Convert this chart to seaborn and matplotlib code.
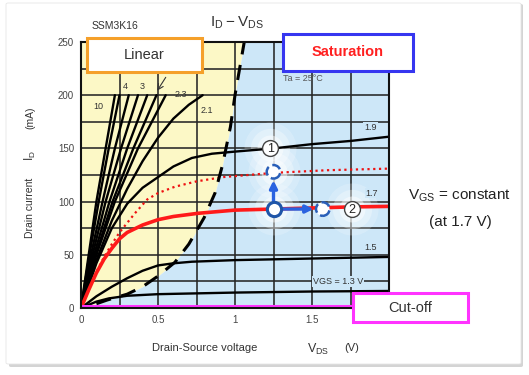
import numpy as np
import pandas as pd
import matplotlib
matplotlib.use("Agg")
import matplotlib.pyplot as plt
import seaborn as sns
from matplotlib.patches import Rectangle, FancyBboxPatch

# ==========================
# DATA
# ==========================
# steep curves ending at 200 mA (Vgs = 10 ... 2.3)
steep_names = ["10", "6", "4", "3.5", "3", "2.5", "2.3"]
steep_i = [0, 50, 100, 150, 200]
steep_v = [
    [0, 0.05, 0.10, 0.16, 0.22],
    [0, 0.055, 0.115, 0.18, 0.25],
    [0, 0.065, 0.14, 0.22, 0.31],
    [0, 0.075, 0.16, 0.26, 0.37],
    [0, 0.085, 0.185, 0.30, 0.43],
    [0, 0.095, 0.205, 0.34, 0.49],
    [0, 0.10, 0.22, 0.37, 0.55],
]

vgs21_v = [0, 0.1, 0.2, 0.3, 0.4, 0.5, 0.6, 0.7, 0.79]
vgs21_i = [0, 45, 82, 112, 138, 160, 178, 191, 200]

vgs19_v = [0, 0.1, 0.2, 0.3, 0.4, 0.5, 0.6, 0.72, 0.85, 1.0, 1.25, 1.5, 1.75, 2.0]
vgs19_i = [0, 42, 75, 98, 113, 123, 133, 141, 145, 147, 150, 154, 157, 161]

vgs15_v = [0, 0.1, 0.2, 0.3, 0.4, 0.5, 0.6, 0.72, 1.0, 1.5, 2.0]
vgs15_i = [0, 11, 20, 28, 35, 40, 42, 43.5, 45, 46.5, 48]

vgs13_v = [0, 0.1, 0.18, 0.3, 0.5, 1.0, 1.5, 2.0]
vgs13_i = [0, 6, 9, 11.5, 13, 14.5, 15.5, 16]

vgs17_v = [0, 0.05, 0.1, 0.15, 0.2, 0.25, 0.3, 0.4, 0.5, 0.6, 0.76, 1.0, 1.25, 1.5, 1.75, 2.0]
vgs17_i = [0, 17, 33, 46, 56, 65, 71, 78, 83, 86, 89, 92, 93, 94, 95, 95.5]

dotted_v = [0, 0.05, 0.1, 0.15, 0.2, 0.25, 0.3, 0.35, 0.43, 0.5, 0.61, 0.75, 0.92, 1.25, 1.6, 2.0]
dotted_i = [0, 17, 34, 48, 60, 71, 80, 89, 102, 108, 114, 119, 123, 127, 129.5, 131]

# linear / saturation boundary (dashed)
bound_v = [0, 0.1, 0.17, 0.3, 0.4, 0.5, 0.61, 0.7, 0.8, 0.87, 0.92, 0.97, 1.0, 1.03, 1.06]
bound_i = [0, 4, 7.5, 13, 20, 30, 43, 60, 85, 108, 135, 170, 200, 225, 250]

cutoff_v = [0, 1.78]
cutoff_i = [1.5, 1.5]

# operating points
op_v = [1.25]
op_i = [93]
moved_v = [1.25, 1.57]
moved_i = [128, 93]
mark_labels = ["1", "2"]
mark_v = [1.23, 1.76]
mark_i = [150, 93]

x_ticks = [0, 0.5, 1, 1.5]
y_ticks = [0, 50, 100, 150, 200, 250]

# ==========================
# FIGURE
# ==========================
sns.set_style("white")
plt.rcParams['font.family'] = ['Liberation Sans', 'DejaVu Sans']
plt.rcParams['mathtext.fontset'] = 'custom'
plt.rcParams['mathtext.rm'] = 'Liberation Sans'

W, H = 529, 375
fig = plt.figure(figsize=(W / 100, H / 100), dpi=100)
fig.patch.set_facecolor("white")


def fx(x):
    return x / W


def fy(y):
    return 1 - y / H


# card with shadow
fig.add_artist(FancyBboxPatch((fx(9), fy(367)), fx(514), 363 / H,
                              boxstyle="round,pad=0,rounding_size=0.004",
                              transform=fig.transFigure, fc="#d4d4d4", ec="none", zorder=-2))
fig.add_artist(FancyBboxPatch((fx(6), fy(364)), fx(515), 361 / H,
                              boxstyle="round,pad=0,rounding_size=0.004",
                              transform=fig.transFigure, fc="white", ec="#e6e6e6", lw=0.6, zorder=-1))

ax = fig.add_axes([fx(81), fy(308), 308 / W, 266 / H])
ax.set_zorder(1)
ax.set_xlim(0, 2)
ax.set_ylim(0, 250)

# background regions
ax.fill_betweenx(bound_i, 0, bound_v, color="#fcf8c6", lw=0, zorder=0.2)
ax.fill_betweenx(bound_i, bound_v, 2, color="#cde7f8", lw=0, zorder=0.2)

# grid
ax.set_xticks(x_ticks)
ax.set_yticks(y_ticks)
ax.set_xticks(np.arange(0, 2.01, 0.25), minor=True)
ax.set_yticks(np.arange(0, 251, 25), minor=True)
ax.set_axisbelow(True)
ax.grid(which="both", color="#262626", lw=1.15)
ax.tick_params(which="major", axis="both", length=3, width=0.8, color="#444",
               labelsize=7, labelcolor="#444", pad=2, direction="out")
ax.tick_params(which="minor", length=0)
ax.set_xticklabels(["0", "0.5", "1", "1.5"])
for s in ax.spines.values():
    s.set_color("#111")
    s.set_linewidth(1.5)

# glow behind annotations
glow_v = [1.23, 1.25, 1.76, 1.25]
glow_i = [150, 128, 93, 93]
for sz, a in [(1400, 0.2), (800, 0.3), (350, 0.45)]:
    ax.scatter(glow_v, glow_i, s=sz, color="white", alpha=a, lw=0, zorder=1)

# curves
rows = []
for name, vs in zip(steep_names, steep_v):
    for v, i in zip(vs, steep_i):
        rows.append({"vgs": name, "V": v, "I": i})
for name, vs, is_ in [("2.1", vgs21_v, vgs21_i), ("1.9", vgs19_v, vgs19_i),
                      ("1.5", vgs15_v, vgs15_i), ("1.3", vgs13_v, vgs13_i)]:
    for v, i in zip(vs, is_):
        rows.append({"vgs": name, "V": v, "I": i})
black = pd.DataFrame(rows)
sns.lineplot(data=black, x="V", y="I", units="vgs", estimator=None, sort=False,
             color="black", lw=1.7, ax=ax, zorder=2)

sns.lineplot(x=dotted_v, y=dotted_i, sort=False, color="#ee1111", lw=1.6,
             linestyle=(0, (1, 1.6)), ax=ax, zorder=2)
sns.lineplot(x=vgs17_v, y=vgs17_i, sort=False, color="#ff1a1a", lw=2.6, ax=ax, zorder=2.2)
sns.lineplot(x=bound_v[1:], y=bound_i[1:], sort=False, color="black", lw=2.2,
             linestyle=(0, (5, 3.5)), ax=ax, zorder=2.3)
sns.lineplot(x=cutoff_v, y=cutoff_i, sort=False, color="#ff33ff", lw=2.2, ax=ax, zorder=2.4)
ax.set_xlabel("")
ax.set_ylabel("")

# arrows and points
akw = dict(arrowstyle="-|>", color="#2a62e0", lw=2.4, mutation_scale=11, shrinkA=0, shrinkB=0)
ax.annotate("", xy=(1.25, 120), xytext=(1.25, 99), arrowprops=akw, zorder=3)
ax.annotate("", xy=(1.51, 93), xytext=(1.3, 93), arrowprops=akw, zorder=3)
ax.scatter(moved_v, moved_i, s=95, facecolor="white", edgecolor="#2a5fb8", lw=1.8,
           linestyle="--", zorder=4)
ax.scatter(op_v, op_i, s=105, facecolor="white", edgecolor="#1f55a8", lw=2.2, zorder=4)
ax.scatter(mark_v, mark_i, s=130, facecolor="white", edgecolor="#444", lw=1.0, zorder=4)
for t, v, i in zip(mark_labels, mark_v, mark_i):
    ax.text(v, i - 1, t, ha="center", va="center", fontsize=9, color="#222", zorder=5)

# curve labels
lbl = dict(fontsize=6.5, color="#333", ha="center", va="center", zorder=5)
ax.text(0.11, 189, "10", **lbl)
ax.text(0.285, 208, "4", **lbl)
ax.text(0.40, 208, "3", **lbl)
ax.annotate("", xy=(0.485, 202), xytext=(0.56, 219),
            arrowprops=dict(arrowstyle="->", color="#333", lw=0.8), zorder=5)
ax.text(0.645, 201, "2.3", **lbl)
ax.text(0.82, 186, "2.1", **lbl)
bb = dict(fc="#cde7f8", ec="none", pad=0.6)
ax.text(1.88, 170, "1.9", bbox=bb, **lbl)
ax.text(1.89, 108, "1.7", bbox=bb, **lbl)
ax.text(1.88, 57, "1.5", bbox=bb, **lbl)
ax.text(1.67, 25, "VGS = 1.3 V", bbox=bb, **lbl)
ax.text(1.31, 216, "Ta = 25°C", fontsize=6.5, color="#555", ha="left", va="center", zorder=5)

# ==========================
# TEXT AROUND THE AXES
# ==========================
fig.text(fx(115), fy(26), "SSM3K16", fontsize=7.5, color="#333", ha="center", va="center")
fig.text(fx(237), fy(23), r"$\mathregular{I_D - V_{DS}}$", fontsize=11, color="#333",
         ha="center", va="center")
fig.text(fx(30), fy(208), "Drain current", fontsize=7.5, color="#333", rotation=90,
         ha="center", va="center")
fig.text(fx(30), fy(156), r"$\mathregular{I_D}$", fontsize=8.5, color="#333", rotation=90,
         ha="center", va="center")
fig.text(fx(30), fy(118), "(mA)", fontsize=7.5, color="#333", rotation=90,
         ha="center", va="center")
fig.text(fx(205), fy(348), "Drain-Source voltage", fontsize=8, color="#333",
         ha="center", va="center")
fig.text(fx(318), fy(349), r"$\mathregular{V_{DS}}$", fontsize=9, color="#333",
         ha="center", va="center")
fig.text(fx(352), fy(348), "(V)", fontsize=8, color="#333", ha="center", va="center")

fig.text(fx(460), fy(196), r"$\mathregular{V_{GS}}$ = constant", fontsize=11, color="#222",
         ha="center", va="center")
fig.text(fx(460), fy(222), "(at 1.7 V)", fontsize=11, color="#222", ha="center", va="center")


def box(x0, y0, x1, y1, edge, text, tcolor, weight="normal"):
    fig.add_artist(Rectangle((fx(x0), fy(y1)), (x1 - x0) / W, (y1 - y0) / H,
                             transform=fig.transFigure, fc="white", ec=edge, lw=2.2, zorder=6))
    fig.text(fx((x0 + x1) / 2), fy((y0 + y1) / 2), text, fontsize=10.5, color=tcolor,
             weight=weight, ha="center", va="center", zorder=7)


box(87, 38, 202, 72, "#f5a02a", "Linear", "#333")
box(283, 34, 413, 71, "#3636f0", "Saturation", "#ff2020", weight="bold")
box(353, 293, 468, 322, "#ff33ff", "Cut-off", "#333")

fig.savefig("out.png", dpi=100)
